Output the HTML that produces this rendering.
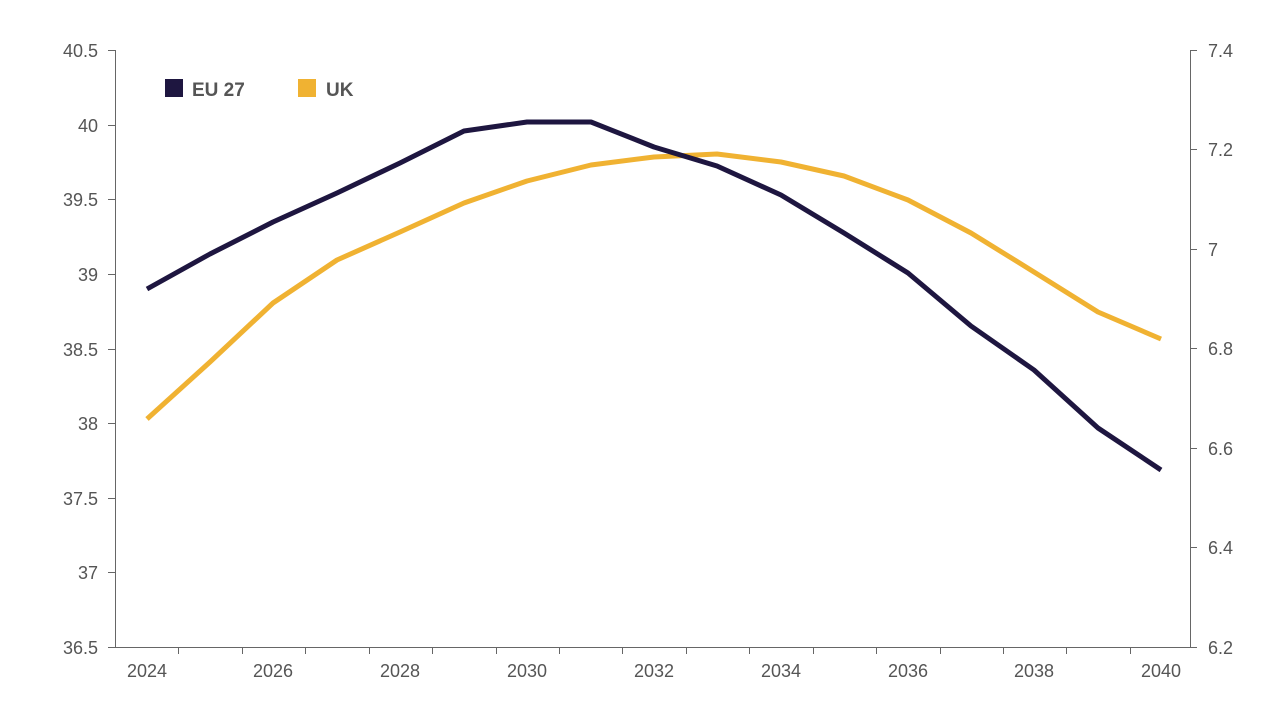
<!DOCTYPE html>
<html><head><meta charset="utf-8"><style>
html,body{margin:0;padding:0;background:#fff;}
svg text{font-family:"Liberation Sans",sans-serif;fill:#555;}
</style></head><body>
<svg width="1280" height="720" viewBox="0 0 1280 720" xmlns="http://www.w3.org/2000/svg">
<g stroke="#666" stroke-width="1" fill="none">
<line x1="115.5" y1="50" x2="115.5" y2="647"/>
<line x1="1190.5" y1="50" x2="1190.5" y2="647"/>
<line x1="115" y1="647.5" x2="1191" y2="647.5"/>
<line x1="108" y1="50.5" x2="115" y2="50.5"/>
<line x1="108" y1="125.5" x2="115" y2="125.5"/>
<line x1="108" y1="199.5" x2="115" y2="199.5"/>
<line x1="108" y1="274.5" x2="115" y2="274.5"/>
<line x1="108" y1="349.5" x2="115" y2="349.5"/>
<line x1="108" y1="423.5" x2="115" y2="423.5"/>
<line x1="108" y1="498.5" x2="115" y2="498.5"/>
<line x1="108" y1="572.5" x2="115" y2="572.5"/>
<line x1="108" y1="647.5" x2="115" y2="647.5"/>
<line x1="1190" y1="50.5" x2="1197" y2="50.5"/>
<line x1="1190" y1="149.5" x2="1197" y2="149.5"/>
<line x1="1190" y1="249.5" x2="1197" y2="249.5"/>
<line x1="1190" y1="348.5" x2="1197" y2="348.5"/>
<line x1="1190" y1="448.5" x2="1197" y2="448.5"/>
<line x1="1190" y1="547.5" x2="1197" y2="547.5"/>
<line x1="1190" y1="647.5" x2="1197" y2="647.5"/>
<path d="M178.5 647v7M242.5 647v7M305.5 647v7M369.5 647v7M432.5 647v7M496.5 647v7M559.5 647v7M622.5 647v7M686.5 647v7M749.5 647v7M813.5 647v7M876.5 647v7M940.5 647v7M1003.5 647v7M1066.5 647v7M1130.5 647v7"/>
</g>
<g font-size="18" text-anchor="end">
<text x="98" y="57">40.5</text><text x="98" y="132">40</text><text x="98" y="206">39.5</text>
<text x="98" y="281">39</text><text x="98" y="356">38.5</text><text x="98" y="430">38</text>
<text x="98" y="505">37.5</text><text x="98" y="579">37</text><text x="98" y="654">36.5</text>
</g>
<g font-size="18" text-anchor="start">
<text x="1208" y="57">7.4</text><text x="1208" y="156">7.2</text><text x="1208" y="256">7</text>
<text x="1208" y="355">6.8</text><text x="1208" y="455">6.6</text><text x="1208" y="554">6.4</text>
<text x="1208" y="654">6.2</text>
</g>
<g font-size="18" text-anchor="middle">
<text x="147" y="677">2024</text><text x="273" y="677">2026</text><text x="400" y="677">2028</text>
<text x="527" y="677">2030</text><text x="654" y="677">2032</text><text x="781" y="677">2034</text>
<text x="908" y="677">2036</text><text x="1034" y="677">2038</text><text x="1161" y="677">2040</text>
</g>
<polyline fill="none" stroke="#f0b232" stroke-width="5" stroke-linejoin="round" points="147,419 210,362 273,303 337,260 400,232 464,203 527,181 591,165 654,157 717,154 781,162 844,176 908,200 971,233 1034,272 1098,312 1161,339"/>
<polyline fill="none" stroke="#1e1640" stroke-width="5" stroke-linejoin="round" points="147,289 210,254 273,222 337,193 400,163 464,131 527,122 591,122 654,147 717,166 781,195 844,233 908,273 971,326 1034,370 1098,428 1161,470"/>
<rect x="165" y="79" width="18" height="18" fill="#1e1640"/>
<text x="192" y="96" font-size="19" font-weight="bold">EU 27</text>
<rect x="298" y="79" width="18" height="18" fill="#f0b232"/>
<text x="326" y="96" font-size="19" font-weight="bold">UK</text>
</svg>
</body></html>
